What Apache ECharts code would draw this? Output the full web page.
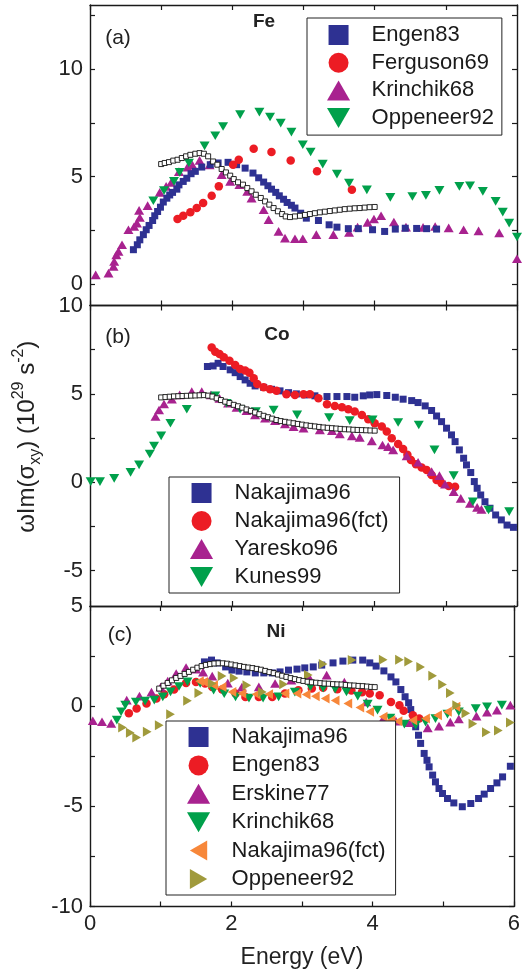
<!DOCTYPE html>
<html><head><meta charset="utf-8">
<script src="https://cdn.jsdelivr.net/npm/echarts@6/dist/echarts.min.js"></script>
<style>html,body{margin:0;padding:0;background:#fff}#c{width:523px;height:973px}</style>
</head><body><div id="c"></div>
<script>
// ---------- Panel (a) Fe ----------
const engen83_a = [[0.61,1.60],[0.665,1.83],[0.70,2.06],[0.75,2.30],[0.79,2.53],[0.83,2.73],[0.88,2.96],[0.91,3.18],[0.95,3.38],[0.99,3.58],[1.03,3.82],[1.08,4.00],[1.12,4.15],[1.16,4.27],[1.22,4.42],[1.25,4.62],[1.31,4.78],[1.36,4.93],[1.42,5.14],[1.48,5.25],[1.57,5.45],[1.69,5.56],[1.80,5.64],[1.94,5.67],[2.06,5.56],[2.18,5.40],[2.29,5.17],[2.37,4.95],[2.44,4.75],[2.50,4.58],[2.55,4.42],[2.61,4.27],[2.66,4.11],[2.72,3.95],[2.77,3.80],[2.83,3.67],[2.88,3.54],[2.96,3.30],[3.04,3.07],[3.21,2.96],[3.36,2.76],[3.47,2.65],[3.63,2.58],[3.77,2.58],[3.97,2.53],[4.14,2.45],[4.29,2.56],[4.43,2.60],[4.59,2.59],[4.73,2.58],[4.87,2.56]];
const ferguson69_a = [[1.23,3.03],[1.31,3.18],[1.41,3.34],[1.50,3.54],[1.59,3.77],[1.71,4.11],[1.81,4.55],[2.01,5.56],[2.09,5.79],[2.30,6.30],[2.55,6.15],[2.82,5.75],[3.19,5.25],[3.68,4.39]];
const krinchik68_a = [[0.08,0.43],[0.26,0.51],[0.33,0.82],[0.34,1.05],[0.37,1.36],[0.40,1.52],[0.45,1.83],[0.54,2.53],[0.62,2.68],[0.66,2.84],[0.70,3.10],[0.69,3.43],[0.81,3.65],[0.98,4.27],[1.07,4.55],[1.14,4.73],[1.25,5.24],[1.37,5.45],[1.44,5.54],[1.54,5.76],[1.68,5.55],[1.85,5.09],[1.97,4.78],[2.10,4.63],[2.21,4.32],[2.27,4.00],[2.44,3.46],[2.51,3.00],[2.65,2.45],[2.74,2.14],[2.88,2.11],[2.99,2.11],[3.18,2.30],[3.42,2.30],[3.64,2.40],[3.76,2.65],[3.90,2.87],[3.99,3.03],[4.09,3.18],[4.27,2.89],[4.44,2.65],[4.68,2.64],[4.85,2.68],[5.04,2.62],[5.25,2.53],[5.46,2.48],[5.75,2.38],[6.00,1.18]];
const oppeneer92_a = [[0.89,3.88],[1.04,4.35],[1.18,4.78],[1.26,5.20],[1.39,5.64],[1.61,6.44],[1.76,6.91],[1.87,7.34],[2.11,7.89],[2.38,8.01],[2.53,7.78],[2.68,7.50],[2.83,7.08],[2.99,6.49],[3.10,6.15],[3.27,5.59],[3.47,5.12],[3.64,4.70],[3.89,4.39],[4.22,4.04],[4.53,4.08],[4.72,4.13],[4.91,4.36],[5.19,4.55],[5.34,4.58],[5.52,4.32],[5.70,3.85],[5.80,3.35],[5.89,2.84],[6.00,2.19]];
const open_a = [[1.00,5.59],[1.05,5.64],[1.11,5.68],[1.17,5.75],[1.23,5.79],[1.29,5.87],[1.35,5.95],[1.41,6.02],[1.48,6.07],[1.54,6.10],[1.60,6.07],[1.66,5.95],[1.73,5.71],[1.79,5.56],[1.85,5.36],[1.91,5.20],[1.97,5.05],[2.02,4.89],[2.08,4.74],[2.15,4.63],[2.21,4.47],[2.27,4.32],[2.33,4.16],[2.40,4.01],[2.46,3.85],[2.52,3.70],[2.58,3.54],[2.64,3.39],[2.70,3.26],[2.75,3.15],[2.81,3.12],[2.88,3.15],[2.95,3.18],[3.02,3.22],[3.09,3.26],[3.16,3.30],[3.23,3.34],[3.30,3.37],[3.37,3.40],[3.44,3.43],[3.51,3.46],[3.58,3.49],[3.65,3.51],[3.72,3.53],[3.79,3.54],[3.86,3.56],[3.93,3.58],[4.00,3.59]];

// ---------- Panel (b) Co ----------
const nakajima96_b = [[1.65,6.55],[1.73,6.58],[1.80,6.73],[1.87,6.55],[1.97,6.36],[2.04,6.20],[2.11,5.98],[2.18,5.79],[2.25,5.60],[2.32,5.45],[2.44,5.37],[2.55,5.26],[2.67,5.17],[2.79,5.07],[2.90,5.00],[3.02,4.94],[3.16,4.89],[3.33,4.85],[3.47,4.85],[3.61,4.85],[3.72,4.81],[3.84,4.89],[3.93,4.94],[4.03,4.96],[4.17,4.91],[4.29,4.81],[4.40,4.70],[4.52,4.62],[4.61,4.51],[4.71,4.32],[4.80,4.06],[4.87,3.75],[4.94,3.43],[5.01,3.06],[5.08,2.68],[5.13,2.30],[5.19,1.83],[5.25,1.36],[5.29,0.98],[5.35,0.55],[5.40,0.04],[5.44,-0.34],[5.49,-0.72],[5.55,-1.10],[5.62,-1.47],[5.70,-1.85],[5.78,-2.13],[5.86,-2.42],[5.95,-2.55]];
const nakajima96fct_b = [[1.71,7.62],[1.76,7.39],[1.82,7.26],[1.88,7.07],[1.96,6.88],[2.04,6.64],[2.11,6.41],[2.18,6.32],[2.24,6.20],[2.30,5.88],[2.35,5.56],[2.44,5.37],[2.53,5.26],[2.62,5.18],[2.76,4.98],[2.88,4.94],[3.00,4.98],[3.09,4.98],[3.21,4.75],[3.33,4.41],[3.44,4.32],[3.54,4.24],[3.63,4.13],[3.72,4.00],[3.82,3.81],[3.91,3.56],[4.00,3.34],[4.10,3.15],[4.17,2.87],[4.24,2.49],[4.33,2.17],[4.40,1.88],[4.46,1.55],[4.51,1.26],[4.58,1.02],[4.66,0.83],[4.73,0.70],[4.80,0.41],[4.87,0.13],[4.94,-0.06],[5.04,-0.21],[5.13,-0.25]];
const yaresko96_b = [[0.92,3.72],[0.97,4.09],[1.04,4.43],[1.15,4.70],[1.26,4.94],[1.43,5.13],[1.57,5.13],[1.70,4.94],[1.82,4.75],[1.94,4.47],[2.06,4.24],[2.20,4.05],[2.32,3.81],[2.46,3.62],[2.60,3.49],[2.74,3.30],[2.86,3.15],[3.00,3.06],[3.23,2.96],[3.40,2.92],[3.51,2.73],[3.68,2.62],[3.79,2.54],[3.96,2.34],[4.11,2.11],[4.19,2.02],[4.26,1.83],[4.45,1.49],[4.61,1.13],[4.80,0.60],[4.91,0.38],[4.99,-0.11],[5.11,-0.53],[5.21,-0.91],[5.34,-1.19],[5.44,-1.42],[5.50,-1.53]];
const kunes99_b = [[0.01,0.04],[0.14,0.04],[0.34,0.22],[0.57,0.56],[0.69,0.98],[0.84,1.60],[0.90,2.05],[1.00,2.62],[1.13,3.34],[1.36,4.13],[1.76,4.89],[1.92,4.47],[2.11,4.13],[2.33,4.00],[2.58,4.09],[2.91,3.81],[3.36,3.66],[3.65,3.49],[3.97,3.53],[4.33,3.38],[4.62,3.24],[4.84,1.83],[5.11,0.38],[5.38,-1.10],[5.60,-1.57],[5.89,-1.66]];
const open_b = [[1.00,4.80],[1.06,4.82],[1.12,4.84],[1.18,4.86],[1.24,4.87],[1.30,4.88],[1.36,4.89],[1.42,4.90],[1.48,4.91],[1.54,4.92],[1.60,4.93],[1.66,4.90],[1.72,4.85],[1.78,4.75],[1.84,4.65],[1.90,4.56],[1.96,4.48],[2.02,4.38],[2.08,4.30],[2.14,4.22],[2.20,4.12],[2.26,4.04],[2.32,3.95],[2.38,3.85],[2.44,3.76],[2.50,3.68],[2.56,3.60],[2.62,3.52],[2.68,3.46],[2.74,3.42],[2.80,3.38],[2.86,3.34],[2.92,3.30],[2.98,3.26],[3.04,3.22],[3.10,3.19],[3.16,3.16],[3.22,3.13],[3.28,3.10],[3.34,3.08],[3.40,3.06],[3.46,3.04],[3.52,3.02],[3.58,3.00],[3.64,2.99],[3.70,2.97],[3.76,2.96],[3.82,2.95],[3.88,2.94],[3.94,2.93],[4.00,2.92]];

// ---------- Panel (c) Ni ----------
const nakajima96_c = [[1.62,2.21],[1.72,2.30],[1.80,2.16],[1.92,1.96],[2.01,1.80],[2.11,1.75],[2.22,1.71],[2.34,1.66],[2.46,1.66],[2.58,1.66],[2.69,1.71],[2.81,1.80],[2.93,1.85],[3.04,1.91],[3.16,1.96],[3.28,2.05],[3.44,2.16],[3.58,2.25],[3.72,2.30],[3.86,2.30],[3.96,2.16],[4.05,2.00],[4.16,1.76],[4.26,1.46],[4.33,1.21],[4.40,0.83],[4.46,0.47],[4.51,0.17],[4.54,-0.17],[4.59,-0.62],[4.61,-1.03],[4.65,-1.45],[4.68,-1.86],[4.73,-2.36],[4.77,-2.70],[4.80,-3.03],[4.85,-3.44],[4.89,-3.78],[4.94,-4.11],[4.99,-4.36],[5.06,-4.61],[5.15,-4.83],[5.27,-5.02],[5.39,-4.86],[5.50,-4.61],[5.58,-4.39],[5.67,-4.11],[5.76,-3.83],[5.84,-3.53],[5.95,-3.00]];
const engen83_c = [[0.55,-0.35],[0.66,-0.12],[0.80,0.13],[0.94,0.38],[1.05,0.60],[1.19,0.83],[1.36,1.16],[1.50,1.21],[1.63,1.13],[1.73,0.96],[1.87,0.83],[2.06,0.63],[2.20,0.46],[2.39,0.46],[2.58,0.46],[2.76,0.63],[2.95,0.80],[3.14,0.88],[3.30,0.92],[3.50,0.85],[3.70,0.78],[3.85,0.70],[3.96,0.63],[4.10,0.55],[4.26,0.21],[4.38,0.05],[4.44,-0.23],[4.57,-0.45],[4.66,-0.62]];
const erskine77_c = [[0.04,-0.73],[0.17,-0.78],[0.30,-0.86],[0.52,0.30],[0.70,0.50],[0.87,0.70],[1.00,0.95],[1.10,1.25],[1.22,1.63],[1.36,1.93],[1.50,1.85],[1.60,1.70],[1.73,1.50],[1.95,1.15],[2.15,0.95],[2.39,0.96],[2.62,1.13],[2.85,1.30],[3.10,1.45],[3.35,1.55],[3.60,1.20],[3.91,0.21],[4.15,-0.62],[4.33,-0.75],[4.52,-0.83],[4.78,-1.08],[4.94,-1.00],[5.10,-0.80],[5.22,-0.64],[5.47,-0.50],[5.62,-0.30],[5.76,-0.20],[5.95,0.05]];
const krinchik68_c = [[0.38,-0.70],[0.44,-0.28],[0.50,0.05],[0.65,0.21],[0.78,0.25],[0.91,0.30],[1.03,0.46],[1.14,0.71],[1.26,0.98],[1.38,1.21],[1.56,1.13],[1.75,0.80],[1.90,0.62],[2.06,0.46],[2.25,0.40],[2.45,0.40],[2.67,0.46],[2.90,0.70],[3.12,0.96],[3.30,0.90],[3.47,0.85],[3.63,0.71],[3.79,0.50],[3.93,0.10],[4.07,-0.20],[4.25,-0.60],[4.45,-0.90],[4.61,-0.95],[4.75,-0.80],[4.89,-0.62],[5.06,-0.40],[5.22,-0.28],[5.46,-0.12],[5.62,-0.03],[5.83,0.05]];
const nakajima96fct_c = [[1.55,1.25],[1.61,1.21],[1.75,1.05],[1.87,0.96],[2.01,0.71],[2.15,0.63],[2.35,0.60],[2.53,0.60],[2.76,0.63],[2.93,0.63],[3.06,0.58],[3.19,0.50],[3.33,0.38],[3.47,0.28],[3.65,0.13],[3.82,-0.07],[3.96,-0.28],[4.15,-0.53],[4.26,-0.70],[4.36,-0.75],[4.57,-0.70],[4.75,-0.62],[4.92,-0.45],[5.06,-0.28],[5.18,-0.03]];
const oppeneer92_c = [[0.46,-1.06],[0.57,-1.33],[0.66,-1.56],[0.81,-1.28],[0.98,-0.95],[1.14,-0.40],[1.38,0.27],[1.54,0.66],[1.73,1.13],[1.87,1.50],[2.04,1.40],[2.22,1.05],[2.44,0.71],[2.74,1.10],[3.09,1.55],[3.30,2.10],[3.71,2.30],[4.15,2.32],[4.38,2.32],[4.51,2.23],[4.68,1.96],[4.85,1.52],[4.99,1.08],[5.10,0.66],[5.19,0.05],[5.32,-0.35],[5.42,-0.88],[5.61,-1.30],[5.78,-1.22],[5.95,-0.82]];
const open_c = [[0.98,0.88],[1.04,1.02],[1.10,1.16],[1.16,1.29],[1.22,1.41],[1.28,1.51],[1.34,1.61],[1.40,1.71],[1.46,1.82],[1.52,1.92],[1.58,2.00],[1.64,2.06],[1.70,2.10],[1.76,2.13],[1.82,2.14],[1.88,2.14],[1.94,2.12],[2.00,2.08],[2.06,2.04],[2.12,2.00],[2.18,1.96],[2.24,1.93],[2.30,1.90],[2.36,1.86],[2.42,1.82],[2.48,1.76],[2.54,1.70],[2.60,1.65],[2.66,1.58],[2.72,1.52],[2.78,1.46],[2.84,1.40],[2.90,1.35],[2.96,1.30],[3.02,1.26],[3.08,1.22],[3.14,1.19],[3.20,1.17],[3.26,1.15],[3.32,1.13],[3.38,1.12],[3.44,1.10],[3.50,1.09],[3.56,1.08],[3.62,1.06],[3.68,1.04],[3.74,1.03],[3.80,1.01],[3.86,1.00],[3.92,0.98],[3.98,0.96],[4.03,0.95]];

// ---------- Axes ----------
const xRange = [0, 6];
const xTicks = [0,1,2,3,4,5,6];
const xLabels = [0,2,4,6];
const yRangeA = [-1, 13], yTicksA = [0,2.5,5,7.5,10,12.5], yLabelsA = [0,5,10];
const yRangeB = [-7, 10], yTicksB = [-5,-2.5,0,2.5,5,7.5], yLabelsB = [-5,0,5,10];
const yRangeC = [-10, 5], yTicksC = [-10,-7.5,-5,-2.5,0,2.5], yLabelsC = [-10,-5,0,5];

const legendA = ['Engen83','Ferguson69','Krinchik68','Oppeneer92'];
const legendB = ['Nakajima96','Nakajima96(fct)','Yaresko96','Kunes99'];
const legendC = ['Nakajima96','Engen83','Erskine77','Krinchik68','Nakajima96(fct)','Oppeneer92'];

// ---------- Styles ----------
const FONT = '"Liberation Sans", Arial, Helvetica, sans-serif';
const C = {blue:'#2E3192', red:'#EC1C24', mag:'#A8228F', green:'#00A04B', orange:'#F7873A', olive:'#A09A3C'};
const SYM = {
  sq: 'path://M0,0L10,0L10,10L0,10Z',
  circ: 'circle',
  up: 'path://M5,0L10,8.66L0,8.66Z',
  down: 'path://M0,0L10,0L5,8.66Z',
  left: 'path://M0,5L8.66,0L8.66,10Z',
  right: 'path://M0,0L8.66,5L0,10Z'
};
const SIZE = {sq:7, circ:8.5, up:10, down:10, left:10, right:10};

function sc(name, data, g, sym, color) {
  return { type:'scatter', name, data, xAxisIndex:g*2, yAxisIndex:g*2,
    symbol: SYM[sym], symbolSize: SIZE[sym], symbolKeepAspect: true,
    itemStyle:{color, opacity:1}, emphasis:{disabled:true}, z:2 };
}
function openSq(name, data, g) {
  return { type:'scatter', name, data, xAxisIndex:g*2, yAxisIndex:g*2,
    symbol:'rect', symbolSize:5, itemStyle:{color:'#fff', borderColor:'#111', borderWidth:0.9, opacity:1},
    emphasis:{disabled:true}, z:3 };
}

const grids = [
  {left:90, right:6, top:5, height:300.5},
  {left:90, right:6, top:305.5, height:300.5},
  {left:90, right:6, top:606, height:300.5}
];
const AX = {lineStyle:{color:'#1a1a1a', width:1.4}};
const TK = {inside:true, length:5, lineStyle:{color:'#1a1a1a', width:1.2}};

const xAxes = [], yAxes = [];
const yR = [yRangeA, yRangeB, yRangeC], yT = [yTicksA, yTicksB, yTicksC], yL = [yLabelsA, yLabelsB, yLabelsC];
for (let g = 0; g < 3; g++) {
  xAxes.push({type:'value', gridIndex:g, position:'bottom', min:xRange[0], max:xRange[1],
    axisLine:{show:true, onZero:false, ...AX}, splitLine:{show:false},
    axisTick:{...TK, customValues:xTicks},
    axisLabel:{show:g===2, customValues:xLabels, fontFamily:FONT, fontSize:22, color:'#222', margin:6},
    name: g===2 ? 'Energy (eV)' : '', nameLocation:'middle', nameGap:40,
    nameTextStyle:{fontFamily:FONT, fontSize:23, color:'#222'}});
  xAxes.push({type:'value', gridIndex:g, position:'top', min:xRange[0], max:xRange[1],
    axisLine:{show:true, onZero:false, ...AX}, splitLine:{show:false},
    axisTick:{...TK, customValues:xTicks}, axisLabel:{show:false}});
  const yl = {type:'value', gridIndex:g, position:'left', min:yR[g][0], max:yR[g][1],
    axisLine:{show:true, onZero:false, ...AX}, splitLine:{show:false},
    axisTick:{...TK, customValues:yT[g]},
    axisLabel:{customValues:yL[g], fontFamily:FONT, fontSize:22, color:'#222', margin:7}};
  if (g === 1) {
    yl.name = '{m|ωIm(σ}{sub|xy}{m|) (10}{sup|29}{m| s}{sup|-2}{m|)}';
    yl.nameLocation = 'middle';
    yl.nameGap = 46;
    yl.nameTextStyle = {fontFamily:FONT, color:'#222', padding:[0,0,0,38], rich:{
      m:{fontFamily:FONT, fontSize:24, lineHeight:33, color:'#222', verticalAlign:'middle'},
      sub:{fontFamily:FONT, fontSize:16, lineHeight:16, color:'#222', verticalAlign:'bottom'},
      sup:{fontFamily:FONT, fontSize:16, lineHeight:16, color:'#222', verticalAlign:'top'}
    }};
  }
  yAxes.push(yl);
  yAxes.push({type:'value', gridIndex:g, position:'right', min:yR[g][0], max:yR[g][1],
    axisLine:{show:true, onZero:false, ...AX}, splitLine:{show:false},
    axisTick:{...TK, customValues:yT[g]}, axisLabel:{show:false}});
}

const series = [
  sc('a:Krinchik68', krinchik68_a, 0, 'up', C.mag),
  sc('a:Engen83', engen83_a, 0, 'sq', C.blue),
  sc('a:Ferguson69', ferguson69_a, 0, 'circ', C.red),
  sc('a:Oppeneer92', oppeneer92_a, 0, 'down', C.green),
  openSq('a:open', open_a, 0),
  sc('b:Nakajima96', nakajima96_b, 1, 'sq', C.blue),
  sc('b:Nakajima96(fct)', nakajima96fct_b, 1, 'circ', C.red),
  sc('b:Yaresko96', yaresko96_b, 1, 'up', C.mag),
  sc('b:Kunes99', kunes99_b, 1, 'down', C.green),
  openSq('b:open', open_b, 1),
  sc('c:Nakajima96', nakajima96_c, 2, 'sq', C.blue),
  sc('c:Engen83', engen83_c, 2, 'circ', C.red),
  sc('c:Erskine77', erskine77_c, 2, 'up', C.mag),
  sc('c:Krinchik68', krinchik68_c, 2, 'down', C.green),
  sc('c:Nakajima96(fct)', nakajima96fct_c, 2, 'left', C.orange),
  sc('c:Oppeneer92', oppeneer92_c, 2, 'right', C.olive),
  openSq('c:open', open_c, 2)
];

function legend(prefix, names, left, top, padding, gap) {
  return { orient:'vertical', left, top, padding, itemGap:gap,
    data: names.map(n => prefix + ':' + n),
    formatter: n => n.slice(2),
    itemWidth:24, itemHeight:20, symbolKeepAspect:true, selectedMode:false,
    backgroundColor:'#fff', borderColor:'#222', borderWidth:1, z:10,
    textStyle:{fontFamily:FONT, fontSize:22, color:'#1a1a1a', lineHeight:24, padding:[0,0,0,16]} };
}

const txt = (t, x, y, bold, size) => ({type:'text', x, y, z:20,
  style:{text:t, fill:'#222', font:(bold?'bold ':'') + size + 'px ' + FONT, align:'center', verticalAlign:'middle', textAlign:'center', textVerticalAlign:'middle'}});

const option = {
  animation:false,
  backgroundColor:'#fff',
  grid: grids,
  xAxis: xAxes,
  yAxis: yAxes,
  legend: [
    legend('a', legendA, 307, 18, [5,8,5,20], 3.7),
    legend('b', legendB, 169, 477, [4,11,4,21], 4),
    legend('c', legendC, 166, 721, [4,10,4,21], 4.4)
  ],
  graphic: [
    txt('(a)', 118, 38, false, 21), txt('Fe', 264, 22, true, 19),
    txt('(b)', 118, 337, false, 21), txt('Co', 277, 335, true, 19),
    txt('(c)', 120, 635, false, 21), txt('Ni', 276, 632, true, 19)
  ],
  series
};
const chart = echarts.init(document.getElementById('c'), null, {renderer:'canvas'});
chart.setOption(option);
</script></body></html>
